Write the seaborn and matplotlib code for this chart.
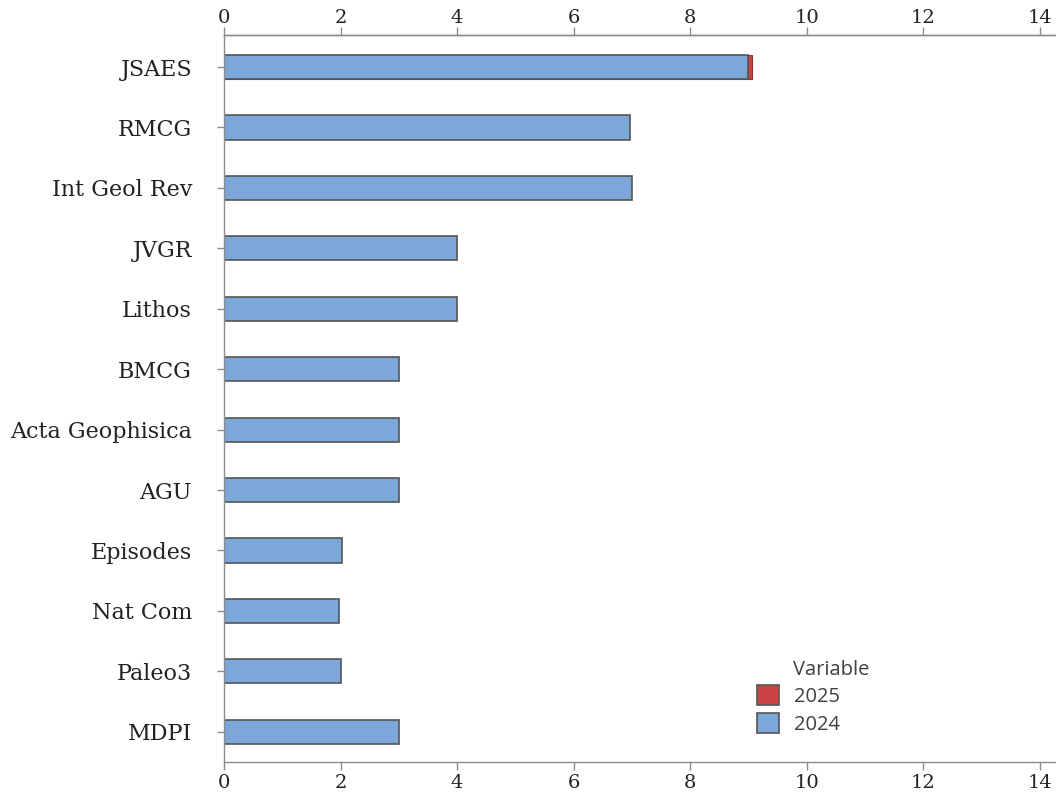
import matplotlib
matplotlib.use("Agg")
import matplotlib.pyplot as plt
from matplotlib.patches import Patch
import seaborn as sns
import pandas as pd

journals = ["JSAES", "RMCG", "Int Geol Rev", "JVGR", "Lithos", "BMCG",
            "Acta Geophisica", "AGU", "Episodes", "Nat Com", "Paleo3", "MDPI"]
values_2024 = [9.0, 6.97, 7.0, 4.0, 4.0, 3.0, 3.0, 3.0, 2.02, 1.98, 2.0, 3.0]
values_2025 = [9.06, 0, 0, 0, 0, 0, 0, 0, 0, 0, 0, 0]
x_ticks = [0, 2, 4, 6, 8, 10, 12, 14]
legend_title = "Variable"
legend_labels = ["2025", "2024"]

sns.set_theme(style="white")
plt.rcParams["font.family"] = ["DejaVu Serif"]

df24 = pd.DataFrame({"journal": journals, "value": values_2024})
df25 = pd.DataFrame({"journal": journals, "value": values_2025})

fig = plt.figure(figsize=(10.56, 7.99), dpi=100)
ax = fig.add_axes([224 / 1056, 1 - 762 / 799, (1055 - 224) / 1056, (762 - 35) / 799])

blue = "#7BA7D9"
red = "#C94343"
edge = "#555555"
axis_gray = "#8c8c8c"

sns.barplot(data=df25, y="journal", x="value", orient="h", order=journals,
            color=red, width=0.4, edgecolor="#9a3030", linewidth=0.8, ax=ax,
            saturation=1)
sns.barplot(data=df24, y="journal", x="value", orient="h", order=journals,
            color=blue, width=0.4, edgecolor=edge, linewidth=1.2, ax=ax,
            saturation=1)

ax.set_xlim(0, 14.26)
ax.set_ylim(11.5, -0.53)
ax.set_xticks(x_ticks)
ax.set_xticklabels([str(t) for t in x_ticks])
ax.set_xlabel("")
ax.set_ylabel("")

for side in ["top", "bottom", "left"]:
    ax.spines[side].set_visible(True)
    ax.spines[side].set_color(axis_gray)
    ax.spines[side].set_linewidth(1.0)
ax.spines["right"].set_visible(False)

ax.tick_params(axis="x", which="both", top=False, bottom=True, labeltop=False,
               labelbottom=True, direction="out", length=6, width=1.0,
               color=axis_gray, labelsize=14, labelcolor="#222222", pad=3)
ax.tick_params(axis="y", which="both", left=True, direction="out", length=5,
               width=1.0, color=axis_gray, labelsize=16, labelcolor="#222222",
               pad=18)

sec = ax.secondary_xaxis("top")
sec.set_xticks(x_ticks)
sec.set_xticklabels([str(t) for t in x_ticks])
sec.tick_params(axis="x", direction="out", length=6, width=1.0,
                color=axis_gray, labelsize=14, labelcolor="#222222", pad=0)
sec.spines["top"].set_color(axis_gray)
sec.spines["top"].set_linewidth(1.0)

handles = [Patch(facecolor=red, edgecolor=edge, linewidth=1.2, label=legend_labels[0]),
           Patch(facecolor=blue, edgecolor=edge, linewidth=1.2, label=legend_labels[1])]
leg = fig.legend(handles=handles, loc="upper left",
                 bbox_to_anchor=(757 / 1056, 1 - 685 / 799), frameon=False,
                 prop={"family": "Open Sans", "size": 14.5},
                 handlelength=1.1, handleheight=1.15, handletextpad=0.75,
                 labelspacing=0.3, borderpad=0, borderaxespad=0)
for t in leg.get_texts():
    t.set_color("#404040")
fig.text(793 / 1056, 1 - 670 / 799, legend_title, family="Open Sans",
         size=14.5, color="#404040", ha="left", va="center")

fig.savefig("out.png", dpi=100)
